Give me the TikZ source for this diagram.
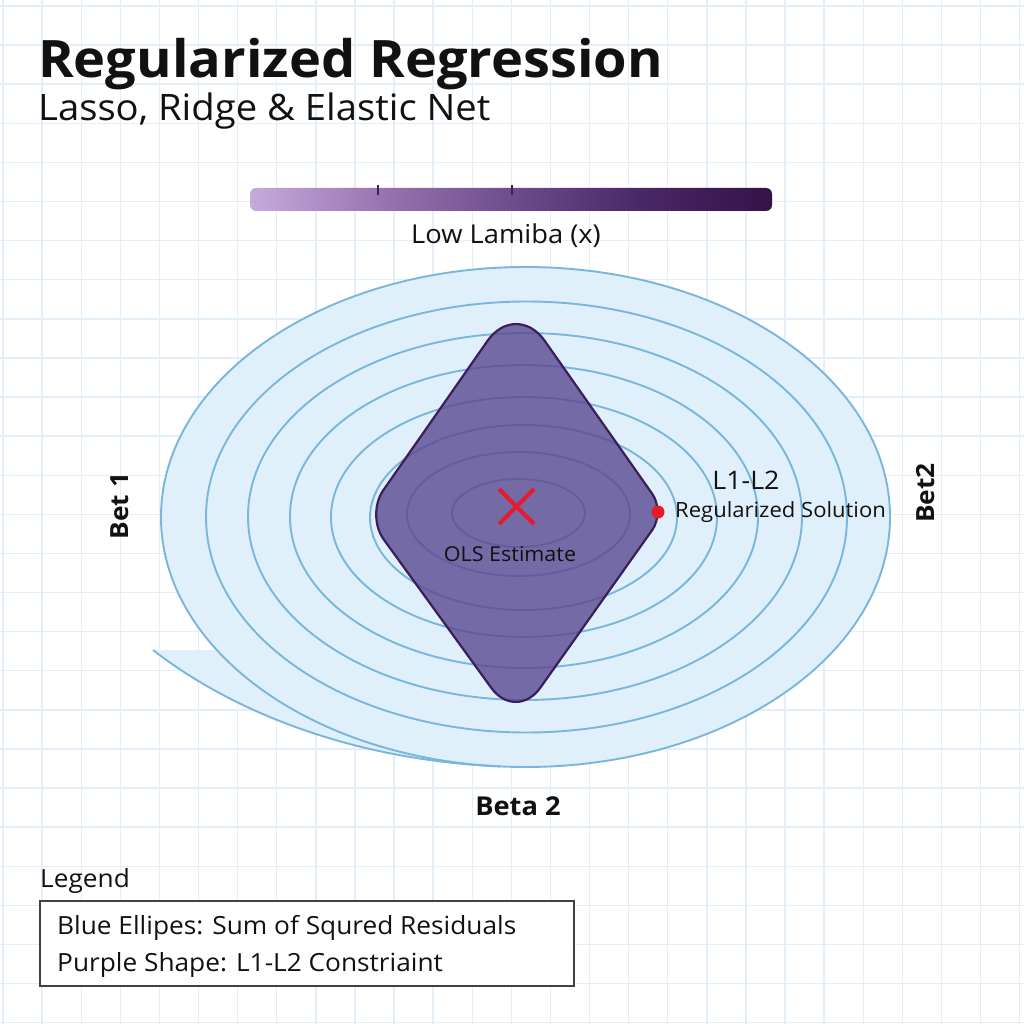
\documentclass[tikz,border=0pt]{standalone}
\usepackage{fontspec}
\setmainfont{Open Sans}[FakeStretch=1.05]
\usetikzlibrary{calc}
\definecolor{gridc}{HTML}{E4EEF8}
\definecolor{ellfill}{HTML}{DFF0FB}
\definecolor{ellline}{HTML}{7AB6DB}
\definecolor{purpfill}{HTML}{5A4990}
\definecolor{purpline}{HTML}{3B1F5C}
\definecolor{redmark}{HTML}{E41B2C}
\definecolor{ink}{HTML}{111111}
\definecolor{lamA}{HTML}{C6AADB}
\definecolor{lamB}{HTML}{9A74B0}
\definecolor{lamC}{HTML}{6E4C8E}
\definecolor{lamD}{HTML}{4A2766}
\definecolor{lamE}{HTML}{361248}
\pgfdeclarehorizontalshading{lambar}{100bp}{color(0bp)=(lamA); color(25bp)=(lamA); color(37.5bp)=(lamB); color(50bp)=(lamC); color(62.5bp)=(lamD); color(75bp)=(lamE); color(100bp)=(lamE)}
\begin{document}
\begin{tikzpicture}[x=1pt,y=-1pt,
  gridline/.style={draw=gridc, line width=1.4pt},
  ell/.style={draw=ellline, line width=1.9pt},
  purp/.style={fill=purpfill, fill opacity=0.8, draw=purpline, draw opacity=1, line width=2.2pt},
  txt/.style={text=ink, inner sep=0pt},
  axlabel/.style={txt, font=\bfseries\fontsize{25}{30}\selectfont}]
\useasboundingbox (0,0) rectangle (1024,1024);
\fill[white] (0,0) rectangle (1024,1024);
% grid
\foreach \i in {0,...,26} {
  \draw[gridline] ({3+39.1*\i},0) -- ({3+39.1*\i},1024);
  \draw[gridline] (0,{6+39.1*\i}) -- (1024,{6+39.1*\i});
}
% title
\node[txt, anchor=base west, font=\bfseries\fontsize{51.6}{60}\selectfont] (title) at (38,78) {Regularized Regression};
\node[txt, anchor=base west, font=\fontsize{36.4}{42}\selectfont] (subtitle) at (38,121) {Lasso, Ridge \& Elastic Net};
% lambda bar
\shade[shading=lambar, rounded corners=6pt] (250,188) rectangle (772,211);
\draw[purpline, line width=1.6pt] (378,185) -- (378,195);
\draw[purpline, line width=1.6pt] (512,185) -- (512,195);
\node[txt, font=\fontsize{26}{30}\selectfont] (lamlabel) at (506,236) {Low Lamiba (x)};
% ellipses
\fill[ellfill] (525.5,517) ellipse [x radius=364.5, y radius=250];
\fill[ellfill] (153,650) -- (219,650) arc[start angle=147.8, end angle=94, x radius=364.5, y radius=250] .. controls (350,760) and (230,710) .. (153,650) -- cycle;
\draw[ell] (153,650) .. controls (230,710) and (350,760) .. (500,766.4);
\draw[ell] (525.5,517) ellipse [x radius=364.5, y radius=250];
\draw[ell] (526.5,517) ellipse [x radius=320.5, y radius=215.5];
\draw[ell] (525,516.5) ellipse [x radius=277, y radius=183.5];
\draw[ell] (524,516.5) ellipse [x radius=234, y radius=151.5];
\draw[ell] (524,517) ellipse [x radius=193, y radius=120];
\draw[ell] (523.5,517.5) ellipse [x radius=153.5, y radius=92.5];
\draw[ell] (518.5,514) ellipse [x radius=111.5, y radius=62];
\draw[ell] (518.5,513) ellipse [x radius=66.5, y radius=34];
% constraint shape
\coordinate (pT) at (516,300);
\coordinate (pR) at (665,512);
\coordinate (pB) at (516,722);
\coordinate (pL) at (366,515);
\path[purp] ($(pT)!50pt!(pR)$) -- ($(pR)!22pt!(pT)$) .. controls ($(pR)!10pt!(pT)$) and ($(pR)!10pt!(pB)$) .. ($(pR)!22pt!(pB)$)
  -- ($(pB)!42pt!(pR)$) .. controls ($(pB)!19pt!(pR)$) and ($(pB)!19pt!(pL)$) .. ($(pB)!42pt!(pL)$)
  -- ($(pL)!30pt!(pB)$) .. controls ($(pL)!13.5pt!(pB)$) and ($(pL)!13.5pt!(pT)$) .. ($(pL)!30pt!(pT)$)
  -- ($(pT)!50pt!(pL)$) .. controls ($(pT)!22.5pt!(pL)$) and ($(pT)!22.5pt!(pR)$) .. ($(pT)!50pt!(pR)$) -- cycle;
% OLS estimate
\coordinate (ols) at (516.5,506.5);
\draw[redmark, line width=4pt] ($(ols)+(-17.5,-17.5)$) -- ($(ols)+(17.5,17.5)$);
\draw[redmark, line width=4pt] ($(ols)+(17.5,-17.5)$) -- ($(ols)+(-17.5,17.5)$);
\node[txt, font=\fontsize{20.5}{24}\selectfont] (olslabel) at (510,554) {OLS Estimate};
% regularized solution
\fill[redmark] (658,512) circle (6.5);
\node[txt, font=\fontsize{25.5}{30}\selectfont] (l1l2) at (746,480) {L1-L2};
\node[txt, anchor=west, font=\fontsize{21}{25}\selectfont] (regsol) at (675,512) {Regularized Solution};
% axis labels
\node[axlabel, rotate=90] (bet1) at (120,506) {Bet 1};
\node[axlabel, rotate=90] (bet2) at (926,493) {Bet2};
\node[axlabel, font=\bfseries\fontsize{26}{30}\selectfont] (beta2) at (518,806) {Beta 2};
% legend
\node[txt, anchor=base west, font=\fontsize{25}{30}\selectfont] (legtitle) at (40,887) {Legend};
\draw[draw=ink!80, fill=white, line width=1.5pt] (40,901) rectangle (574,986);
\node[txt, anchor=base west, font=\fontsize{25}{30}\selectfont] (leg1) at (57,934) {Blue Ellipes: Sum of Squred Residuals};
\node[txt, anchor=base west, font=\fontsize{25}{30}\selectfont] (leg2) at (57,971) {Purple Shape: L1-L2 Constriaint};
\end{tikzpicture}
\end{document}
